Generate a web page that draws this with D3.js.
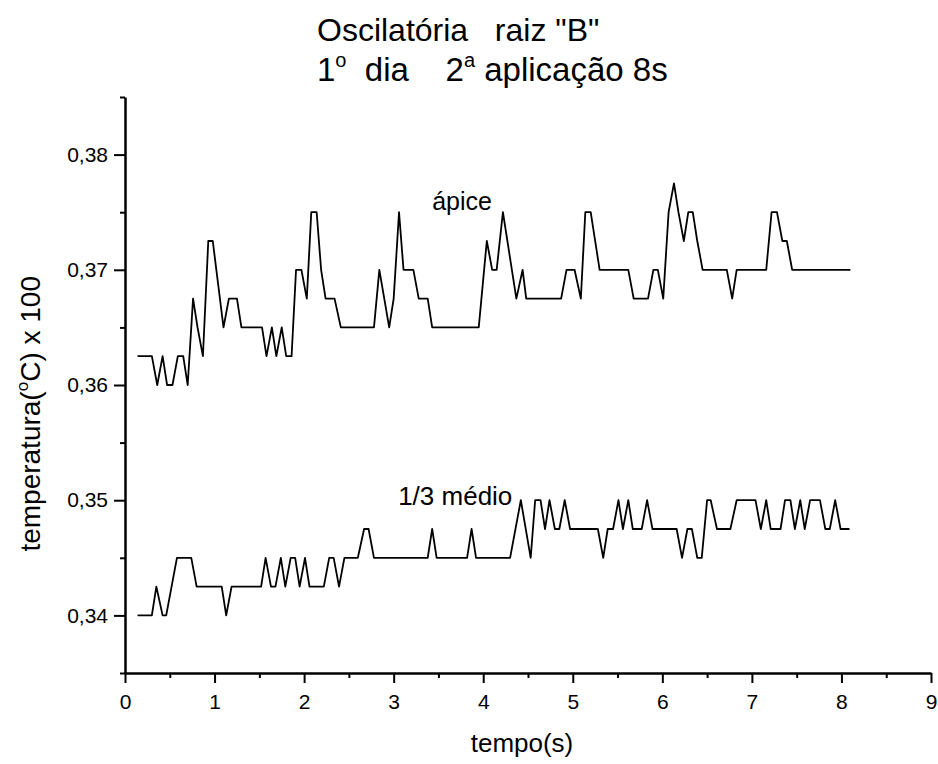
<!DOCTYPE html>
<html>
<head>
<meta charset="utf-8">
<script src="https://cdn.jsdelivr.net/npm/d3@7"></script>
<style>
  body { margin: 0; background: #fff; }
  svg { font-family: 'Liberation Sans', Arial, sans-serif; }
  .axis path, .axis line { stroke: #000; }
  .axis text { fill: #000; }
</style>
</head>
<body>
<svg id="chart" width="938" height="764"></svg>
<script>
// tempo (s) and temperatura, one vertex per entry
const apiceTempo = [0.14, 0.30, 0.36, 0.42, 0.47, 0.53, 0.59, 0.65, 0.70, 0.76, 0.81, 0.87, 0.93, 0.98, 1.02, 1.10, 1.16, 1.25, 1.30, 1.53,
  1.58, 1.64, 1.69, 1.75, 1.80, 1.86, 1.91, 1.97, 2.03, 2.08, 2.14, 2.19, 2.24, 2.34, 2.41, 2.78, 2.84, 2.95, 3.00, 3.06,
  3.11, 3.22, 3.28, 3.38, 3.43, 3.95, 4.04, 4.10, 4.15, 4.22, 4.27, 4.32, 4.37, 4.44, 4.48, 4.87, 4.93, 5.02, 5.09, 5.14,
  5.20, 5.30, 5.62, 5.68, 5.84, 5.90, 5.95, 6.01, 6.07, 6.13, 6.18, 6.24, 6.29, 6.34, 6.39, 6.45, 6.72, 6.78, 6.83, 7.16,
  7.22, 7.28, 7.34, 7.39, 7.45, 8.10];
const apiceTemp = [0.3625, 0.3625, 0.36, 0.3625, 0.36, 0.36, 0.3625, 0.3625, 0.36, 0.3675, 0.365, 0.3625, 0.3725, 0.3725, 0.37, 0.365, 0.3675, 0.3675, 0.365, 0.365,
  0.3625, 0.365, 0.3625, 0.365, 0.3625, 0.3625, 0.37, 0.37, 0.3675, 0.375, 0.375, 0.37, 0.3675, 0.3675, 0.365, 0.365, 0.37, 0.365, 0.3675, 0.375,
  0.37, 0.37, 0.3675, 0.3675, 0.365, 0.365, 0.3725, 0.37, 0.37, 0.375, 0.3725, 0.37, 0.3675, 0.37, 0.3675, 0.3675, 0.37, 0.37, 0.3675, 0.375,
  0.375, 0.37, 0.37, 0.3675, 0.3675, 0.37, 0.37, 0.3675, 0.375, 0.3775, 0.375, 0.3725, 0.375, 0.375, 0.3725, 0.37, 0.37, 0.3675, 0.37, 0.37,
  0.375, 0.375, 0.3725, 0.3725, 0.37, 0.37];

const medioTempo = [0.14, 0.30, 0.35, 0.42, 0.46, 0.52, 0.58, 0.74, 0.80, 1.08, 1.13, 1.19, 1.52, 1.57, 1.63, 1.68, 1.74, 1.79, 1.85, 1.90,
  1.95, 2.01, 2.06, 2.22, 2.28, 2.33, 2.39, 2.45, 2.60, 2.67, 2.72, 2.78, 3.38, 3.43, 3.48, 3.82, 3.87, 3.92, 4.30, 4.42,
  4.53, 4.58, 4.64, 4.69, 4.74, 4.80, 4.85, 4.91, 4.97, 5.28, 5.34, 5.39, 5.45, 5.51, 5.56, 5.62, 5.67, 5.77, 5.83, 5.89,
  6.16, 6.22, 6.28, 6.33, 6.39, 6.44, 6.50, 6.54, 6.61, 6.76, 6.83, 7.04, 7.10, 7.16, 7.21, 7.32, 7.37, 7.43, 7.48, 7.54,
  7.59, 7.65, 7.76, 7.82, 7.87, 7.93, 7.99, 8.09];
const medioTemp = [0.34, 0.34, 0.3425, 0.34, 0.34, 0.3425, 0.345, 0.345, 0.3425, 0.3425, 0.34, 0.3425, 0.3425, 0.345, 0.3425, 0.3425, 0.345, 0.3425, 0.345, 0.345,
  0.3425, 0.345, 0.3425, 0.3425, 0.345, 0.345, 0.3425, 0.345, 0.345, 0.3475, 0.3475, 0.345, 0.345, 0.3475, 0.345, 0.345, 0.3475, 0.345, 0.345, 0.35,
  0.345, 0.35, 0.35, 0.3475, 0.35, 0.3475, 0.3475, 0.35, 0.3475, 0.3475, 0.345, 0.3475, 0.3475, 0.35, 0.3475, 0.35, 0.3475, 0.3475, 0.35, 0.3475,
  0.3475, 0.345, 0.3475, 0.3475, 0.345, 0.345, 0.35, 0.35, 0.3475, 0.3475, 0.35, 0.35, 0.3475, 0.35, 0.3475, 0.3475, 0.35, 0.35, 0.3475, 0.35,
  0.3475, 0.35, 0.35, 0.3475, 0.3475, 0.35, 0.3475, 0.3475];

const xTicks = [0, 1, 2, 3, 4, 5, 6, 7, 8, 9];
const xMinorTicks = [0.5, 1.5, 2.5, 3.5, 4.5, 5.5, 6.5, 7.5, 8.5];
const yTicks = [0.34, 0.35, 0.36, 0.37, 0.38];
const yMinorTicks = [0.335, 0.345, 0.355, 0.365, 0.375, 0.385];

const margin = { top: 97, right: 7, bottom: 91, left: 125 };
const svg = d3.select('#chart');
const width = +svg.attr('width') - margin.left - margin.right;
const height = +svg.attr('height') - margin.top - margin.bottom;

const x = d3.scaleLinear().domain([0, 9]).range([0, width]);
const y = d3.scaleLinear().domain([0.335, 0.385]).range([height, 0]);

const comma = d3.formatLocale({ decimal: ',', thousands: '.', grouping: [3], currency: ['', ''] }).format('.2f');

const chart = svg.append('g').attr('transform', `translate(${margin.left},${margin.top})`);

// minor ticks first, major axes on top
chart.append('g')
  .attr('class', 'axis')
  .attr('transform', `translate(0,${height})`)
  .call(d3.axisBottom(x).tickValues(xMinorTicks).tickSize(5).tickFormat(''))
  .call(g => g.select('.domain').remove())
  .selectAll('line').attr('stroke-width', 2);

chart.append('g')
  .attr('class', 'axis')
  .call(d3.axisLeft(y).tickValues(yMinorTicks).tickSize(5).tickFormat(''))
  .call(g => g.select('.domain').remove())
  .selectAll('line').attr('stroke-width', 2);

const xAxis = chart.append('g')
  .attr('class', 'axis')
  .attr('transform', `translate(0,${height})`)
  .call(d3.axisBottom(x).tickValues(xTicks).tickSize(10).tickSizeOuter(0).tickPadding(11));
xAxis.select('.domain').attr('stroke-width', 2.5);
xAxis.selectAll('line').attr('stroke-width', 2);
xAxis.selectAll('text').attr('font-size', 21);

const yAxis = chart.append('g')
  .attr('class', 'axis')
  .call(d3.axisLeft(y).tickValues(yTicks).tickSize(11).tickSizeOuter(0).tickPadding(6).tickFormat(comma));
yAxis.select('.domain').attr('stroke-width', 2.5);
yAxis.selectAll('line').attr('stroke-width', 2);
yAxis.selectAll('text').attr('font-size', 21);

const line = d3.line().x(d => x(d[0])).y(d => y(d[1]));

chart.append('path')
  .datum(d3.zip(apiceTempo, apiceTemp))
  .attr('fill', 'none')
  .attr('stroke', '#000')
  .attr('stroke-width', 1.8)
  .attr('stroke-linejoin', 'round')
  .attr('d', line);

chart.append('path')
  .datum(d3.zip(medioTempo, medioTemp))
  .attr('fill', 'none')
  .attr('stroke', '#000')
  .attr('stroke-width', 1.8)
  .attr('stroke-linejoin', 'round')
  .attr('d', line);

// series labels
chart.append('text')
  .attr('x', x(3.43))
  .attr('y', y(0.3752))
  .attr('font-size', 25)
  .text('ápice');

chart.append('text')
  .attr('x', x(3.05))
  .attr('y', y(0.3496))
  .attr('font-size', 26)
  .text('1/3 médio');

// axis titles
svg.append('text')
  .attr('x', margin.left + width / 2 - 6)
  .attr('y', 752)
  .attr('text-anchor', 'middle')
  .attr('font-size', 26)
  .text('tempo(s)');

const yTitle = svg.append('text')
  .attr('transform', `translate(40,${margin.top + y(0.3575)}) rotate(-90)`)
  .attr('text-anchor', 'middle')
  .attr('font-size', 28);
yTitle.append('tspan').text('temperatura(');
yTitle.append('tspan').attr('font-size', 17).attr('dy', -12).text('o');
yTitle.append('tspan').attr('dy', 12).text('C) x 100');

// title
const title = svg.append('g').attr('font-size', 32);
title.append('text').attr('x', 317).attr('y', 41).attr('xml:space', 'preserve').text('Oscilatória   raiz "B"');
const t2 = title.append('text').attr('x', 317).attr('y', 81).attr('xml:space', 'preserve').attr('font-size', 33);
t2.append('tspan').text('1');
t2.append('tspan').attr('font-size', 20).attr('dy', -14).text('o');
t2.append('tspan').attr('dy', 14).text('  dia    2');
t2.append('tspan').attr('font-size', 20).attr('dy', -14).text('a');
t2.append('tspan').attr('dy', 14).text(' aplicação 8s');
</script>
</body>
</html>
